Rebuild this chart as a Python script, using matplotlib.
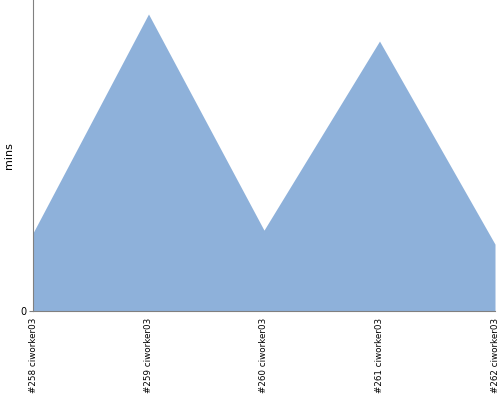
import numpy as np
import matplotlib
matplotlib.use("Agg")
import matplotlib.pyplot as plt

# build labels and durations (mins)
builds = ["#258 ciworker03", "#259 ciworker03", "#260 ciworker03",
          "#261 ciworker03", "#262 ciworker03"]
mins = [25.1, 95.5, 26.0, 86.8, 21.5]

fig = plt.figure(figsize=(5, 4), dpi=100)
ax = fig.add_axes([0.066, 0.2225, 0.924, 0.7775])

x = np.arange(len(builds))
ax.fill_between(x, 0, mins, color="#8eb1da", linewidth=0)

ax.set_xlim(0, len(builds) - 1)
ax.set_ylim(0, 100)
ax.set_yticks([0])
ax.set_yticklabels(["0"], fontsize=7)
ax.set_xticks(x)
ax.set_xticklabels(builds, rotation=90, fontsize=6.3)
ax.tick_params(axis="x", length=0, pad=5)
ax.tick_params(axis="y", length=3, color="#808080", pad=2)
ax.set_ylabel("mins", fontsize=8, labelpad=4)

for s in ["top", "right"]:
    ax.spines[s].set_visible(False)
for s in ["left", "bottom"]:
    ax.spines[s].set_color("#808080")
    ax.spines[s].set_linewidth(0.8)

fig.savefig("out.png", dpi=100)
